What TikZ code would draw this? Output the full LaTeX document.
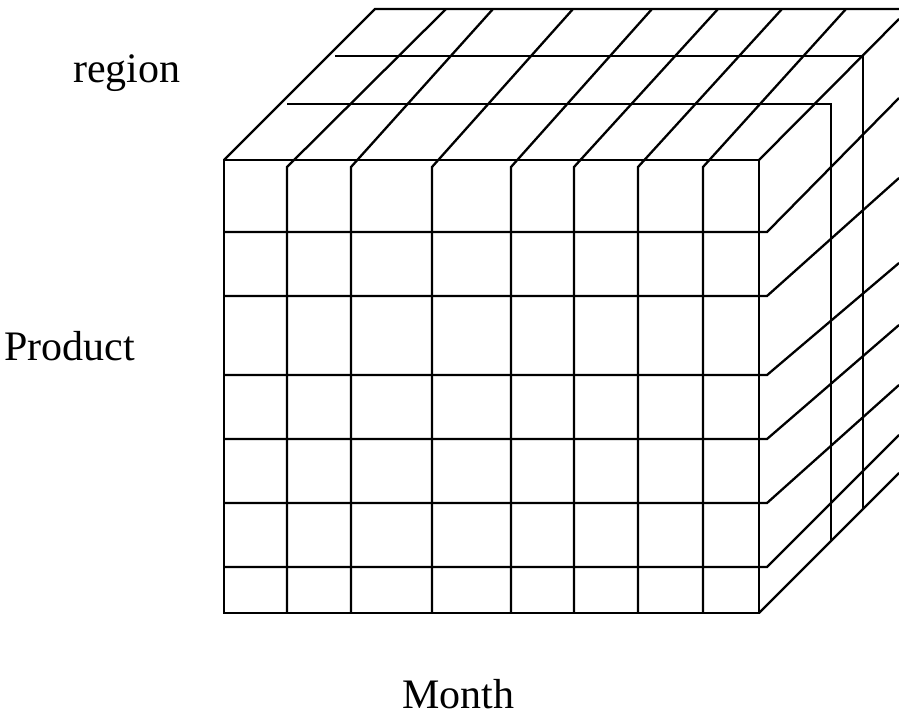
\documentclass[tikz,border=0pt]{standalone}
\usepackage{fontspec}
\setmainfont{Liberation Serif}
\usetikzlibrary{positioning}
\tikzset{
  gridline/.style={black,line width=2.3pt,line join=miter},
  axislabel/.style={font=\fontsize{42}{50}\selectfont,inner sep=0pt,anchor=base west}
}
\begin{document}
\begin{tikzpicture}[x=1pt,y=-1pt]
  \useasboundingbox (0,0) rectangle (899,721);
  \clip (0,0) rectangle (899,721);
  % front face
  \draw[gridline] (224,160) rectangle (759,613);
  % month columns: front x / back x on the top face
  \foreach \f/\b in {287/446,351/493,432/573,511/652,574/718,638/782,703/846}
    \draw[gridline] (\f,613) -- (\f,167) -- (\b,9);
  % product rows: front y / y where they leave the right face
  \foreach \f/\b in {232/98,296/178,375/263,439/325,503/385,567/435}
    \draw[gridline] (224,\f) -- (767,\f) -- (899,\b);
  % cube edges
  \draw[gridline] (224,160) -- (375,9) -- (905,9);
  \draw[gridline] (759,160) -- (899,19);
  \draw[gridline] (759,613) -- (899,473);
  % region layers
  \draw[gridline] (335,56) -- (863,56) -- (863,509);
  \draw[gridline] (287,104) -- (831,104) -- (831,542);
  % axis labels
  \node[axislabel] (region) at (73,82) {region};
  \node[axislabel] (product) at (4,360) {Product};
  \node[axislabel] (month) at (402,708) {Month};
\end{tikzpicture}
\end{document}
